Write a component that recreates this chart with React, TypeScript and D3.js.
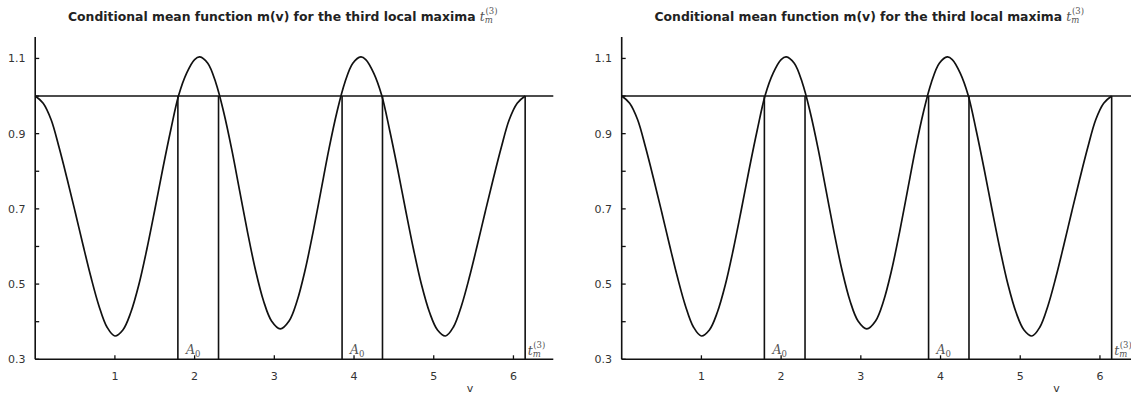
import React from 'react';
import * as d3 from 'd3';

// ---- Data ----
const curveV = [
  0.0, 0.1, 0.2, 0.3, 0.4, 0.5, 0.6, 0.7, 0.8, 0.9, 1.0,
  1.1, 1.2, 1.3, 1.4, 1.5, 1.6, 1.7, 1.8, 1.9, 2.0, 2.065,
  2.165, 2.265, 2.365, 2.465, 2.565, 2.665, 2.765, 2.865, 2.965, 3.075,
  3.185, 3.285, 3.385, 3.485, 3.585, 3.685, 3.785, 3.885, 3.985, 4.085,
  4.147, 4.247, 4.347, 4.447, 4.547, 4.647, 4.747, 4.847, 4.947, 5.047, 5.147,
  5.247, 5.347, 5.447, 5.547, 5.647, 5.747, 5.847, 5.947, 6.047, 6.147,
];
const curveM = [
  1.0, 0.981, 0.937, 0.863, 0.78, 0.693, 0.604, 0.518, 0.442, 0.386, 0.362,
  0.378, 0.425, 0.498, 0.592, 0.697, 0.806, 0.909, 1.002, 1.061, 1.097, 1.104,
  1.087, 1.036, 0.957, 0.859, 0.748, 0.637, 0.536, 0.455, 0.402, 0.381,
  0.402, 0.455, 0.536, 0.637, 0.748, 0.859, 0.957, 1.036, 1.087, 1.104,
  1.097, 1.061, 1.002, 0.909, 0.806, 0.697, 0.592, 0.498, 0.425, 0.378, 0.362,
  0.386, 0.442, 0.518, 0.604, 0.693, 0.78, 0.863, 0.937, 0.981, 1.0,
];
const boundaryV = [1.79, 2.3, 3.85, 4.357, 6.147];
const threshold = 1.0;
const xTicks = [1, 2, 3, 4, 5, 6];
const yMajorTicks = [0.3, 0.5, 0.7, 0.9, 1.1];
const yMinorTicks = [0.4, 0.6, 0.8, 1.0];
const xDomain: [number, number] = [0, 6.5];
const yDomain: [number, number] = [0.3, 1.157];
const a0LabelAt = [1.79, 3.85];
const tmLabelAt = 6.147;
const titleText = 'Conditional mean function m(v) for the third local maxima ';
const xLabel = 'v';
const panelOffsets = [0, 586.5];

const W = 1131;
const H = 394;

function Panel({ ox }: { ox: number }) {
  const x = d3.scaleLinear().domain(xDomain).range([35.2, 553.3]);
  const y = d3.scaleLinear().domain(yDomain).range([359.3, 37]);
  const pts = curveV.map((v, i) => [v, curveM[i]] as [number, number]);
  const line = d3
    .line<[number, number]>()
    .x((d) => x(d[0]))
    .y((d) => y(d[1]))
    .curve(d3.curveCatmullRom.alpha(0.5));
  const x0 = x(xDomain[0]);
  const x1 = x(xDomain[1]);
  const y0 = y(yDomain[0]);
  const y1 = y(yDomain[1]);
  const sans = "'DejaVu Sans', 'Liberation Sans', sans-serif";
  const serif = "'DejaVu Serif', 'Liberation Serif', serif";
  return (
    <g transform={`translate(${ox},0)`}>
      {/* title */}
      <text x={68} y={20.5} fontFamily={sans} fontWeight="bold" fontSize={12.4} fill="#222">
        {titleText}
        <tspan fontFamily={serif} fontStyle="italic" fontWeight="normal" fontSize={12.5} fill="#555">t</tspan>
        <tspan fontFamily={serif} fontStyle="italic" fontWeight="normal" fontSize={8.5} fill="#555" dy={2}>m</tspan>
        <tspan fontFamily={serif} fontWeight="normal" fontSize={8.5} fill="#555" dx={-7.5} dy={-8.5}>(3)</tspan>
      </text>

      {/* threshold line */}
      <line x1={x0} x2={x1} y1={y(threshold)} y2={y(threshold)} stroke="#111" strokeWidth={1.6} />

      {/* vertical boundary lines */}
      {boundaryV.map((v, i) => (
        <line key={i} x1={x(v)} x2={x(v)} y1={y0} y2={y(threshold)} stroke="#111" strokeWidth={1.6} />
      ))}

      {/* curve */}
      <path d={line(pts) || ''} fill="none" stroke="#111" strokeWidth={1.7} strokeLinejoin="round" />

      {/* axes */}
      <line x1={x0} x2={x0} y1={y0} y2={y1} stroke="#111" strokeWidth={1.6} />
      <line x1={x0} x2={x1} y1={y0} y2={y0} stroke="#111" strokeWidth={1.6} />

      {xTicks.map((t) => (
        <g key={'xt' + t}>
          <line x1={x(t)} x2={x(t)} y1={y0} y2={y0 - 4} stroke="#111" strokeWidth={1.3} />
          <text x={x(t)} y={379.5} textAnchor="middle" fontFamily={sans} fontSize={11} fill="#333">
            {t}
          </text>
        </g>
      ))}
      {yMajorTicks.map((t) => (
        <g key={'yt' + t}>
          <line x1={x0} x2={x0 + 4} y1={y(t)} y2={y(t)} stroke="#111" strokeWidth={1.3} />
          <text x={25.5} y={y(t) + 4} textAnchor="end" fontFamily={sans} fontSize={11} fill="#333">
            {d3.format('.1f')(t)}
          </text>
        </g>
      ))}
      {yMinorTicks.map((t) => (
        <line key={'ym' + t} x1={x0} x2={x0 + 4} y1={y(t)} y2={y(t)} stroke="#111" strokeWidth={1.3} />
      ))}

      <text x={470} y={391.5} textAnchor="middle" fontFamily={sans} fontSize={11} fill="#333">
        {xLabel}
      </text>

      {/* region labels */}
      {a0LabelAt.map((v, i) => (
        <text key={'a0' + i} x={x(v) + 8} y={354} fontFamily={serif} fontSize={12.5} fill="#555">
          <tspan fontStyle="italic">A</tspan>
          <tspan fontSize={8.5} dy={2.5}>0</tspan>
        </text>
      ))}
      <text x={x(tmLabelAt) + 2.5} y={355} fontFamily={serif} fontSize={12.5} fill="#555">
        <tspan fontStyle="italic">t</tspan>
        <tspan fontStyle="italic" fontSize={8.5} dy={1.5}>m</tspan>
        <tspan fontSize={8.5} dx={-7.5} dy={-9}>(3)</tspan>
      </text>
    </g>
  );
}

export default function App() {
  return (
    <svg
      width={W}
      height={H}
      viewBox={`0 0 ${W} ${H}`}
      style={{ position: 'absolute', left: 0, top: 0, background: '#fff', display: 'block' }}
    >
      <rect x={0} y={0} width={W} height={H} fill="#fff" />
      {panelOffsets.map((ox, i) => (
        <Panel key={i} ox={ox} />
      ))}
    </svg>
  );
}
